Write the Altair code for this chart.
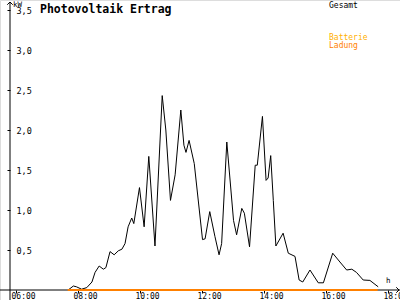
import altair as alt
import pandas as pd

# --- data ---
times = ["07:41","07:51","07:57","08:07","08:17","08:27","08:33","08:41","08:49","08:54",
         "09:02","09:10","09:18","09:25","09:31","09:37","09:44","09:48","09:59","10:08",
         "10:17","10:29","10:43","10:50","10:59","11:08","11:19","11:25","11:29","11:35",
         "11:45","12:01","12:06","12:15","12:25","12:33","12:38","12:48","13:01","13:07",
         "13:17","13:22","13:32","13:43","13:47","13:57","14:04","14:08","14:13","14:18",
         "14:23","14:37","14:47","15:00","15:08","15:15","15:29","15:45","15:55","16:13",
         "16:27","16:40","16:50","16:59","17:12","17:25","17:41"]
gesamt = [0.00,0.05,0.04,0.01,0.03,0.10,0.22,0.30,0.26,0.28,
          0.48,0.44,0.49,0.51,0.58,0.79,0.90,0.83,1.28,0.79,
          1.67,0.55,2.43,2.00,1.12,1.44,2.25,1.81,1.72,1.87,
          1.58,0.63,0.64,0.98,0.67,0.44,0.58,1.85,0.87,0.69,
          1.02,0.96,0.54,1.56,1.56,2.17,1.37,1.40,1.68,1.12,
          0.55,0.71,0.46,0.42,0.125,0.10,0.25,0.09,0.09,0.46,
          0.35,0.25,0.26,0.22,0.125,0.12,0.04]
ladung_times = ["07:40", "17:40"]
ladung = [0.0, 0.0]

x_ticks = [6, 8, 10, 12, 14, 16, 18]
y_ticks = [0.5, 1.0, 1.5, 2.0, 2.5, 3.0, 3.5]
legend_labels = ["Gesamt", "Batterie", "Ladung"]
legend_colors = ["#000000", "#ffb000", "#ff8000"]
legend_rows = [0, 4, 5]
title_text = "Photovoltaik Ertrag"

def to_h(t):
    h, m = t.split(":")
    return int(h) + int(m) / 60

df = pd.DataFrame({"h": [to_h(t) for t in times], "kw": gesamt})
dl = pd.DataFrame({"h": [to_h(t) for t in ladung_times], "kw": ladung})

XMIN, XMAX = 6 - 16 / 31, 6 + 384 / 31
YMIN, YMAX = -10 / 80, 290 / 80
YAX = 6 - 6 / 31

xs = alt.Scale(domain=[XMIN, XMAX], nice=False, zero=False)
ys = alt.Scale(domain=[YMIN, YMAX], nice=False, zero=False)
FONT = "DejaVu Sans Mono"

xaxis = alt.Axis(values=x_ticks, orient="bottom", offset=-10, domain=False, grid=False,
                 tickColor="black", tickSize=3, labelPadding=-1, labelAlign="left",
                 labelOffset=-5, labelFont=FONT, labelFontSize=8, labelColor="black",
                 labelExpr="(datum.value < 10 ? '0' : '') + datum.value + ':00'",
                 labelOverlap=False, labelBound=False, labelFlush=False, title=None)
yaxis = alt.Axis(values=y_ticks, orient="left", offset=-10, domain=False, grid=False,
                 tickColor="black", tickSize=3, labelPadding=-9, labelAlign="left",
                 labelBaseline="middle", labelFont=FONT, labelFontSize=8.5, labelColor="black",
                 labelExpr="replace(format(datum.value, '.1f'), '.', ',')",
                 labelOverlap=False, labelBound=False, labelFlush=False, title=None)

X = lambda f: alt.X(f, scale=xs, axis=xaxis)
Y = lambda f: alt.Y(f, scale=ys, axis=yaxis)

line = alt.Chart(df).mark_line(color="black", strokeWidth=1, interpolate="linear").encode(
    x=X("h:Q"), y=Y("kw:Q"))

# axis lines
ax_df = pd.DataFrame({"x1": [YAX, XMIN], "x2": [YAX, XMAX], "y1": [YMIN, 0.0], "y2": [YMAX - 2 / 80, 0.0]})
axes_lines = alt.Chart(ax_df).mark_rule(color="black", strokeWidth=1).encode(
    x=X("x1:Q"), x2="x2:Q", y=Y("y1:Q"), y2="y2:Q")

arr_df = pd.DataFrame({"x": [YAX, XMAX - 1 / 31], "y": [YMAX - 2 / 80, 0.0],
                       "shape": ["M-1,1L0,0L1,1", "M-1,-1L0,0L-1,1"]})
arrows = alt.Chart(arr_df).mark_point(filled=False, color="black", strokeWidth=1, size=30, opacity=1).encode(
    x=X("x:Q"), y=Y("y:Q"), shape=alt.Shape("shape:N", scale=None))

unit_df = pd.DataFrame({"x": [YAX + 3 / 31, XMAX - 14 / 31], "y": [YMAX - 0.5 / 80, 13 / 80], "t": ["kW", "h"]})
units = alt.Chart(unit_df).mark_text(font=FONT, fontSize=7.5, align="left", baseline="top", color="black").encode(
    x=X("x:Q"), y=Y("y:Q"), text="t:N")

oline = alt.Chart(dl).mark_line(color="#ff8000", strokeWidth=2).encode(x=X("h:Q"), y=Y("kw:Q"))

leg_df = pd.DataFrame({"label": legend_labels, "color": legend_colors, "row": legend_rows})
legend = alt.Chart(leg_df).transform_calculate(
    ly=f"{YMAX} - (2 + datum.row * 8) / 80"
).mark_text(font=FONT, fontSize=8, align="left", baseline="top").encode(
    x=alt.value(329), y=Y("ly:Q"),
    text="label:N", color=alt.Color("color:N", scale=None))

chart = alt.layer(line, axes_lines, oline, arrows, units, legend).properties(
    width=400, height=300,
    autosize=alt.AutoSizeParams(type="none"),
    padding=0,
    title=alt.TitleParams(title_text, anchor="start", orient="top", dx=40, dy=15, offset=0,
                          font=FONT, fontSize=11.5, fontWeight="bold", color="black", frame="group"),
).configure_view(stroke=None).configure(background="white")

chart.save("out.html", embed_options={"renderer": "svg", "actions": False})
